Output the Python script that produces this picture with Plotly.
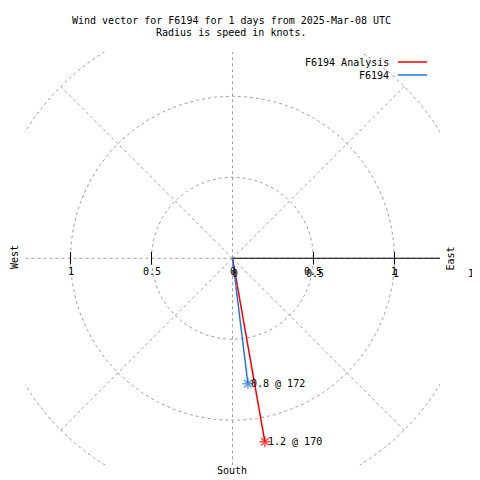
import numpy as np
import plotly.graph_objects as go

# ---------------- data ----------------
series_names = ["F6194 Analysis", "F6194"]
series_colors = ["#ff0000", "#1e78dc"]
speeds_kt = [1.15, 0.78]
directions_deg = [170, 173]
point_labels = ["1.2 @ 170", "0.8 @ 172"]

ring_radii = [0.5, 1.0, 1.5]
spoke_angles_math = [0, 45, 90, 135, 180, 225, 270, 315]
spoke_length = 1.5
x_tick_vals = [-1, -0.5, 0, 0.5, 1]
x_tick_text = ["1", "0.5", "0", "0.5", "1"]
r_tick_vals = [0, 0.5, 1, 1.5]
r_tick_text = ["0", "0.5", "1", "1.5"]
title_lines = ["Wind vector for F6194 for 1 days from 2025-Mar-08 UTC",
               "Radius is speed in knots."]

# ---------------- layout geometry ----------------
PAGE_OFF = 8  # page body margin
W, H = 480 - PAGE_OFF, 480 - PAGE_OFF
ML, MT = 25 - PAGE_OFF, 52 - PAGE_OFF
PW, PH = 415, 413
MR, MB = W - ML - PW, H - MT - PH
XR = [-1.281, 1.281]
YR = [-1.276, 1.273]

def px_x(px):
    # screen pixel -> paper fraction
    return (px - PAGE_OFF - ML) / PW

def px_y(py):
    return (H - MB - (py - PAGE_OFF)) / PH

def data_to_paper_x(v):
    return (v - XR[0]) / (XR[1] - XR[0])

def data_to_paper_y(v):
    return (v - YR[0]) / (YR[1] - YR[0])

FONT = dict(family="DejaVu Sans Mono, Liberation Mono, monospace", size=10, color="black")
GRID = dict(color="#a0a0a0", width=1, dash="3px,3px")

fig = go.Figure()

# rings
t = np.linspace(0, 2 * np.pi, 721)
for r in ring_radii:
    fig.add_trace(go.Scatter(x=r * np.cos(t), y=r * np.sin(t), mode="lines",
                             line=GRID, hoverinfo="skip", showlegend=False))
# spokes
for a in spoke_angles_math:
    ar = np.deg2rad(a)
    fig.add_trace(go.Scatter(x=[0, spoke_length * np.cos(ar)], y=[0, spoke_length * np.sin(ar)],
                             mode="lines", line=GRID, hoverinfo="skip", showlegend=False))

# r axis (solid black) from centre to the right
fig.add_trace(go.Scatter(x=[0, max(r_tick_vals)], y=[0, 0], mode="lines",
                         line=dict(color="black", width=1.2), hoverinfo="skip", showlegend=False))
# tick marks inside the plotting square
tick_x = [v for v in x_tick_vals if v != 0]
fig.add_trace(go.Scatter(x=tick_x, y=[0] * len(tick_x), mode="markers", cliponaxis=False,
                         marker=dict(symbol="line-ns", size=9, line=dict(color="black", width=1)),
                         hoverinfo="skip", showlegend=False))

# wind vectors
for name, col, spd, d in zip(series_names, series_colors, speeds_kt, directions_deg):
    th = np.deg2rad(d)
    xe, ye = spd * np.sin(th), spd * np.cos(th)
    fig.add_trace(go.Scatter(x=[0, xe], y=[0, ye], mode="lines+markers", name=name,
                             line=dict(color=col, width=1.5),
                             marker=dict(symbol="asterisk-open", size=[0, 9],
                                         line=dict(color=col, width=1.5)),
                             showlegend=False))

annotations = []
shapes = []
# point labels
for lab, spd, d in zip(point_labels, speeds_kt, directions_deg):
    th = np.deg2rad(d)
    annotations.append(dict(x=spd * np.sin(th), y=spd * np.cos(th), xref="x", yref="y",
                            text=lab, showarrow=False, xanchor="left", yanchor="middle",
                            xshift=1, font=FONT))
# x-axis tick labels
for v, tx in zip(x_tick_vals, x_tick_text):
    annotations.append(dict(x=v, y=0, xref="x", yref="y", text=tx, showarrow=False,
                            xanchor="center", yanchor="middle", yshift=-13, font=FONT))
# r-axis tick labels (slightly offset, as in the original); paper coords so the
# out-of-range 1.5 tick is still drawn
for v, tx in zip(r_tick_vals, r_tick_text):
    annotations.append(dict(x=data_to_paper_x(v), y=data_to_paper_y(0), xref="paper", yref="paper",
                            text=tx, showarrow=False, xanchor="center", yanchor="middle",
                            xshift=2, yshift=-15, font=FONT))
    if v not in x_tick_vals:
        shapes.append(dict(type="line", xref="paper", yref="paper",
                           x0=data_to_paper_x(v), x1=data_to_paper_x(v),
                           y0=data_to_paper_y(0) - 4.5 / PH, y1=data_to_paper_y(0) + 4.5 / PH,
                           line=dict(color="black", width=1)))
# title
for i, line in enumerate(title_lines):
    annotations.append(dict(x=px_x(231.5), y=px_y(20 + 13 * i), xref="paper", yref="paper",
                            text=line, showarrow=False, xanchor="center", yanchor="middle",
                            font=FONT))
# compass labels
annotations.append(dict(x=px_x(15), y=px_y(257), xref="paper", yref="paper", text="West",
                        textangle=-90, showarrow=False, xanchor="center", yanchor="middle", font=FONT))
annotations.append(dict(x=px_x(449.5), y=px_y(258), xref="paper", yref="paper", text="East",
                        textangle=-90, showarrow=False, xanchor="center", yanchor="middle", font=FONT))
annotations.append(dict(x=px_x(231.5), y=px_y(471), xref="paper", yref="paper", text="South",
                        showarrow=False, xanchor="center", yanchor="middle", font=FONT))

# legend (gnuplot style: text then line sample)
for i, (name, col) in enumerate(zip(series_names, series_colors)):
    ypx = 62 + 13 * i
    annotations.append(dict(x=px_x(391), y=px_y(ypx), xref="paper", yref="paper", text=name,
                            showarrow=False, xanchor="right", yanchor="middle", font=FONT))
    shapes.append(dict(type="line", xref="paper", yref="paper",
                       x0=px_x(398), x1=px_x(427), y0=px_y(ypx), y1=px_y(ypx),
                       line=dict(color=col, width=1.5)))

axis_common = dict(showgrid=False, zeroline=False, showticklabels=False, showline=False,
                   ticks="", fixedrange=True)
fig.update_layout(
    width=W, height=H,
    margin=dict(l=ML, r=MR, t=MT, b=MB, pad=0),
    paper_bgcolor="white", plot_bgcolor="white",
    xaxis=dict(range=XR, **axis_common),
    yaxis=dict(range=YR, **axis_common),
    showlegend=False,
    annotations=annotations,
    shapes=shapes,
    font=FONT,
)

fig.write_html("out.html")
